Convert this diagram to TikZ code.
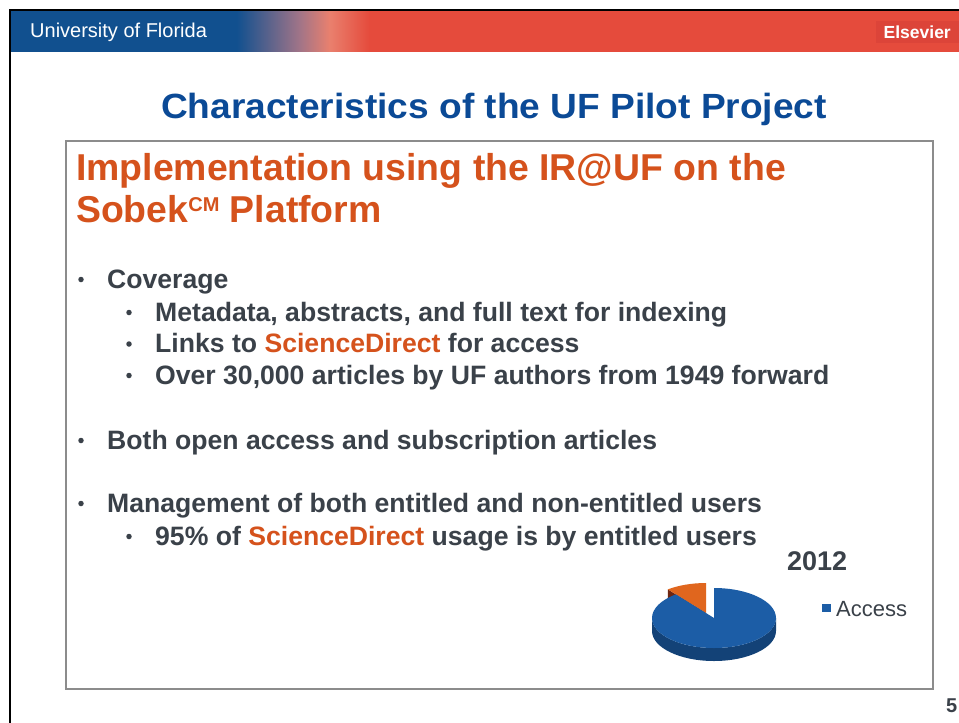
\documentclass[tikz,border=0pt]{standalone}
\usepackage{fontspec}
\setmainfont{Liberation Sans}
\newfontfamily\widesans[FakeStretch=1.06]{Liberation Sans}
\definecolor{ufblue}{HTML}{11508F}
\definecolor{mauve}{HTML}{A07488}
\definecolor{salmon}{HTML}{E9806E}
\definecolor{ufred}{HTML}{E54B3C}
\definecolor{elsred}{HTML}{DC4439}
\definecolor{titleblue}{HTML}{0B4A96}
\definecolor{suborange}{HTML}{D5521C}
\definecolor{bodygray}{HTML}{3A4149}
\definecolor{boxgray}{HTML}{8C8C8C}
\definecolor{pietop}{HTML}{1C5DA6}
\definecolor{pieside}{HTML}{134277}
\definecolor{pieorange}{HTML}{E0661E}
\definecolor{orangedark}{HTML}{6E2510}
\pgfdeclarehorizontalshading{hdrshade}{100bp}{color(0bp)=(ufblue); color(36.9bp)=(ufblue); color(40.2bp)=(mauve); color(41.8bp)=(salmon); color(43.9bp)=(ufred); color(100bp)=(ufred)}
\tikzset{
  hdrtext/.style={text=white, inner sep=0pt, font=\fontsize{20}{24}\selectfont},
  titletext/.style={text=titleblue, inner sep=0pt, anchor=base, font=\widesans\bfseries\fontsize{35}{40}\selectfont},
  subtext/.style={text=suborange, inner sep=0pt, anchor=base west, font=\bfseries\fontsize{37.4}{42}\selectfont},
  bodytext/.style={text=bodygray, inner sep=0pt, anchor=base west, font=\bfseries\fontsize{26.6}{31}\selectfont},
  bulletdot/.style={circle, fill=bodygray, inner sep=0pt, minimum size=5.5pt},
}
\newcommand{\sd}{\textcolor{suborange}{ScienceDirect}}
\begin{document}
\begin{tikzpicture}[x=1pt,y=-1pt]
\useasboundingbox (0,0) rectangle (959,723);
\fill[white] (0,0) rectangle (959,723);
% header bar
\shade[shading=hdrshade] (11,11) rectangle (959,51);
\fill[elsred] (876,21) rectangle (959,43);
\draw[black, line width=2pt] (10,723) -- (10,10) -- (959,10);
\node[hdrtext, anchor=base west] (uf) at (30,37) {University of Florida};
\node[hdrtext, anchor=base east, font=\bfseries\fontsize{17.5}{20}\selectfont] (els) at (951,38) {Elsevier};
% title
\node[titletext] (title) at (494,118) {Characteristics of the UF Pilot Project};
% content box
\draw[boxgray, line width=1.3pt] (66,141) rectangle (933,689);
\node[subtext] (sub1) at (76,180) {Implementation using the IR@UF on the};
\node[subtext] (sub2) at (76,222) {Sobek\raisebox{11pt}{\fontsize{20}{20}\selectfont CM} Platform};
% bullets
\node[bulletdot] (d1) at (81,279.5) {};
\node[bodytext] (t1) at (107,288) {Coverage};
\node[bulletdot] (d2) at (129,312.5) {};
\node[bodytext] (t2) at (155,321) {Metadata, abstracts, and full text for indexing};
\node[bulletdot] (d3) at (129,344) {};
\node[bodytext] (t3) at (155,352.5) {Links to \sd{} for access};
\node[bulletdot] (d4) at (129,375.5) {};
\node[bodytext] (t4) at (155,384) {Over 30,000 articles by UF authors from 1949 forward};
\node[bulletdot] (d5) at (81,440.5) {};
\node[bodytext] (t5) at (107,449) {Both open access and subscription articles};
\node[bulletdot] (d6) at (81,503.5) {};
\node[bodytext] (t6) at (107,512) {Management of both entitled and non-entitled users};
\node[bulletdot] (d7) at (129,536.5) {};
\node[bodytext] (t7) at (155,545) {95\% of \sd{} usage is by entitled users};
% chart
\node[bodytext, font=\bfseries\fontsize{27}{30}\selectfont] (yr) at (787,570) {2012};
\begin{scope}[shift={(714,618)}, y=1pt]
  \begin{scope}[shift={(-8,5)}]
    \fill[orangedark] (0,0) -- (128:62 and 30) -- ++(0,-11) -- (0,-11) -- cycle;
    \fill[pieorange] (0,0) -- (90:62 and 30) arc[start angle=90, end angle=128, x radius=62, y radius=30] -- cycle;
  \end{scope}
  \fill[pieside] (180:62 and 30) arc[start angle=180, end angle=360, x radius=62, y radius=30] -- ++(0,-13) arc[start angle=360, end angle=180, x radius=62, y radius=30] -- cycle;
  \fill[pietop] (0,0) -- (90:62 and 30) arc[start angle=90, end angle=-232, x radius=62, y radius=30] -- cycle;
\end{scope}
\node[fill=pietop, inner sep=0pt, minimum size=8.5pt] (lsq) at (826.5,608) {};
\node[bodytext, font=\fontsize{22}{26}\selectfont] (acc) at (836,616) {Access};
\node[bodytext, font=\bfseries\fontsize{20}{24}\selectfont] (pg) at (946,712) {5};
\end{tikzpicture}
\end{document}
